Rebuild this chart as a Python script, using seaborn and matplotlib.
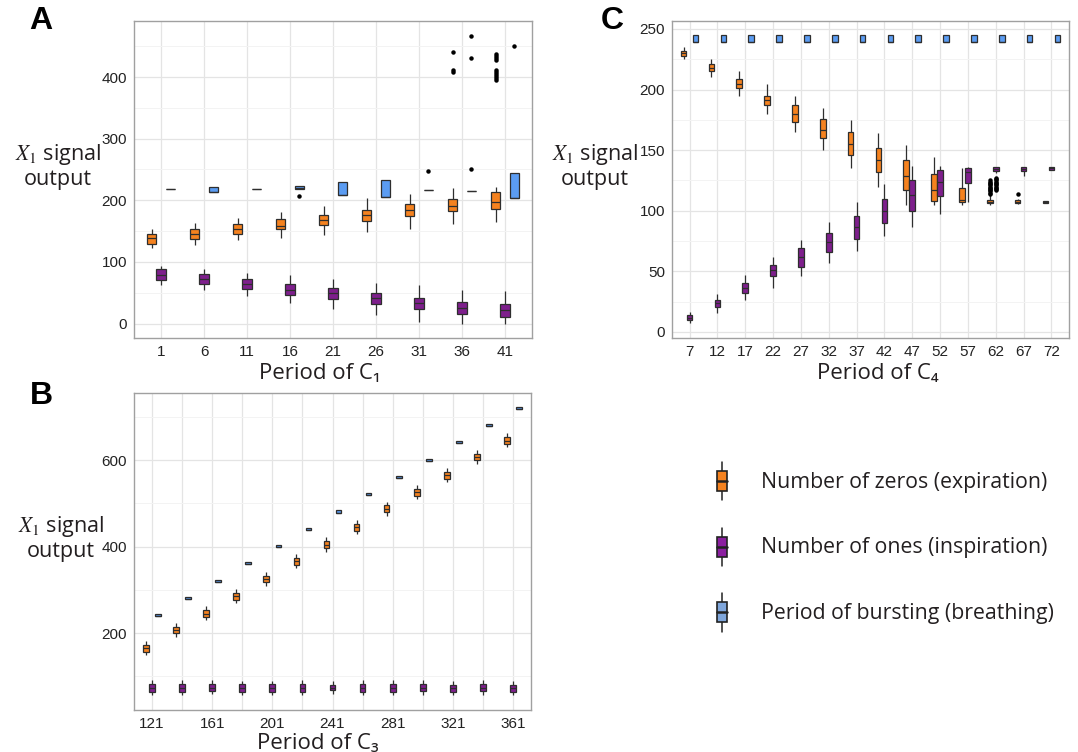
import numpy as np
import pandas as pd
import matplotlib
matplotlib.use("Agg")
import matplotlib.pyplot as plt
from matplotlib.legend_handler import HandlerBase
from matplotlib.patches import Rectangle, Patch
from matplotlib.lines import Line2D
from matplotlib.ticker import MultipleLocator
import seaborn as sns

# ---------------- data (five-number summaries: low whisker, Q1, median, Q3, high whisker) ----------------
SERIES = ["Number of zeros (expiration)", "Number of ones (inspiration)", "Period of bursting (breathing)"]
COLORS = ["#F5821F", "#7E1F8C", "#5B9CF2"]
LEGEND_COLORS = ["#F5821F", "#8B1FA0", "#7FA6DB"]

# Panel A : period of C1
a_periods = [1, 6, 11, 16, 21, 26, 31, 36, 41]
a_zeros = [[123, 129, 138, 146, 153], [128, 137, 145, 153, 163], [136, 145, 153, 161, 172],
           [139, 153, 159, 170, 181], [144, 160, 168, 176, 191], [149, 166, 176, 185, 203],
           [153, 175, 184, 194, 210], [161, 182, 191, 202, 220], [165, 186, 198, 213, 222]]
a_zeros_out = [[], [], [], [], [], [], [], [408, 411, 440],
               [396, 399, 402, 405, 408, 411, 428, 431, 434, 437]]
a_ones = [[63, 70, 79, 88, 94], [54, 64, 73, 80, 89], [44, 56, 64, 72, 82],
          [34, 47, 55, 64, 79], [23, 40, 49, 57, 73], [14, 32, 41, 49, 65],
          [3, 23, 33, 42, 62], [0, 15, 25, 35, 55], [0, 11, 22, 32, 52]]
a_ones_out = [[], [], [], [], [], [], [], [], []]
a_period = [[219, 219, 219, 219, 219], [214, 214, 214, 221, 221], [219, 219, 219, 219, 219],
            [218, 218, 220, 223.5, 223.5], [209, 209, 209, 230, 230], [206, 206, 206, 233, 233],
            [216, 216, 216, 216, 216], [215, 215, 215, 215, 215], [204, 204, 204, 245, 245]]
a_period_out = [[], [], [], [207], [], [], [247], [251, 431, 466], [450]]

# Panel B : period of C3
b_periods = [121, 141, 161, 181, 201, 221, 241, 261, 281, 301, 321, 341, 361]
b_zeros = [[149, 157, 165, 173, 182], [191, 199, 207, 215, 224], [229, 237, 245, 253, 262],
           [269, 277, 285, 293, 302], [309, 317, 325, 333, 342], [350, 358, 366, 374, 383],
           [388, 396, 404, 412, 421], [429, 437, 445, 453, 462], [471, 479, 487, 495, 504],
           [509, 517, 525, 533, 542], [549, 557, 565, 573, 582], [591, 599, 607, 615, 624],
           [629, 637, 645, 653, 662]]
b_ones = [[56, 64, 73, 82, 91], [56, 64, 73, 82, 91], [58, 65, 74, 83, 91], [57, 64, 73, 82, 90],
          [57, 64, 73, 81, 90], [56, 64, 73, 82, 91], [60, 68, 74, 80, 88], [57, 64, 73, 82, 91],
          [57, 64, 73, 82, 91], [57, 65, 74, 82, 91], [57, 64, 72, 80, 90], [57, 65, 74, 83, 92],
          [57, 64, 72, 80, 90]]
b_period = [[238.5, 238.5, 238.5, 243.5, 243.5], [278.5, 278.5, 278.5, 283.5, 283.5],
            [318.5, 318.5, 318.5, 323.5, 323.5], [358.5, 358.5, 358.5, 363.5, 363.5],
            [398.5, 398.5, 398.5, 403.5, 403.5], [438.5, 438.5, 438.5, 443.5, 443.5],
            [478.5, 478.5, 478.5, 483.5, 483.5], [518.5, 518.5, 518.5, 523.5, 523.5],
            [558.5, 558.5, 558.5, 563.5, 563.5], [598.5, 598.5, 598.5, 603.5, 603.5],
            [638.5, 638.5, 638.5, 643.5, 643.5], [678.5, 678.5, 678.5, 683.5, 683.5],
            [718.5, 718.5, 718.5, 723.5, 723.5]]
b_none = [[] for _ in b_periods]

# Panel C : period of C4
c_periods = [7, 12, 17, 22, 27, 32, 37, 42, 47, 52, 57, 62, 67, 72]
c_zeros = [[225, 228, 230, 232, 235], [210, 215, 217.5, 221, 225], [195, 201, 205, 209, 215],
           [180, 187, 191, 195, 205], [165, 173, 180, 187, 195], [150, 160, 167, 176, 185],
           [135, 146, 155, 165, 175], [120, 132, 142, 152, 164], [105, 117, 129, 142, 154],
           [105, 108, 117, 130, 144], [105, 107, 109, 118.5, 135], [105, 106, 107.5, 109, 110],
           [105.5, 106, 107.5, 109, 109.5], [106, 106, 107, 108, 108]]
c_zeros_out = [[], [], [], [], [], [], [], [], [], [], [],
               [112, 113, 114, 115, 116, 117, 118, 119, 120, 121, 122, 123, 124, 125],
               [114], []]
c_ones = [[7, 9.5, 11.5, 14, 16.5], [16, 20.5, 23.5, 26.5, 31.5], [26, 32, 36.5, 40.5, 47],
          [36, 46, 51, 55, 62], [46, 54, 62, 69, 76], [57, 66, 74.5, 82, 91],
          [67, 77, 87, 96, 107], [79, 90, 100, 110, 122], [87, 100, 113, 125, 137],
          [97, 112, 124, 134, 137], [107, 123, 132, 135, 136.5], [131.5, 132.5, 134.5, 136, 136.5],
          [129, 132.5, 134.5, 136, 136.5], [133.5, 134, 135, 136, 136]]
c_ones_out = [[], [], [], [], [], [], [], [], [], [], [],
              [117, 118, 119, 120, 121, 122, 123, 124, 125, 126, 127], [], []]
c_period = [[239.5, 239.5, 239.5, 245, 245]] * 14
c_none = [[] for _ in c_periods]

W, H = 1078, 752


def fx(px):
    return px / W


def fy(py):
    return 1 - py / H


def expand(stats, outs, k=30):
    lo, q1, med, q3, hi = stats
    return [lo] + [q1] * k + [med] * k + [q3] * k + [hi] + list(outs)


def build_df(periods, groups):
    rows = []
    for name, (stats, outs) in zip(SERIES, groups):
        for p, st, ou in zip(periods, stats, outs):
            for v in expand(st, ou):
                rows.append((str(p), name, v))
    return pd.DataFrame(rows, columns=["period", "series", "value"])


sns.set_theme(style="white")
plt.rcParams["font.family"] = ["Liberation Sans", "DejaVu Sans"]
plt.rcParams["mathtext.fontset"] = "stix"

fig = plt.figure(figsize=(W / 100, H / 100), dpi=100)


def panel(rect, periods, groups, width, gap, ylim, yticks, yminor, margin, every=1):
    ax = fig.add_axes(rect)
    df = build_df(periods, groups)
    order = [str(p) for p in periods]
    sns.boxplot(data=df, x="period", y="value", hue="series", order=order, hue_order=SERIES,
                palette=COLORS, saturation=1, width=width, gap=gap, dodge=True, whis=1.5,
                showcaps=False, linecolor="#2E2E2E", linewidth=0.9, fliersize=2.2,
                flierprops=dict(marker="o", markerfacecolor="black", markeredgecolor="black"),
                legend=False, ax=ax)
    ax.set_xlim(-margin, len(periods) - 1 + margin)
    ax.set_ylim(*ylim)
    ax.set_yticks(yticks)
    ax.yaxis.set_minor_locator(MultipleLocator(yminor))
    ax.set_xticks(range(len(periods)))
    ax.set_xticklabels([str(p) if i % every == 0 else "" for i, p in enumerate(periods)])
    ax.set_xlabel("")
    ax.set_ylabel("")
    ax.set_axisbelow(True)
    ax.grid(True, which="major", color="#E4E4E4", lw=0.9)
    ax.grid(True, which="minor", axis="y", color="#F3F3F3", lw=0.7)
    ax.xaxis.grid(True, which="major", color="#E4E4E4", lw=0.9)
    ax.tick_params(axis="both", which="major", length=3.5, width=0.8, color="#444444",
                   labelsize=11, labelcolor="#222222", pad=1.5)
    ax.tick_params(which="minor", length=0)
    for s in ax.spines.values():
        s.set_color("#A0A0A0")
        s.set_linewidth(1.0)
    return ax


panel([fx(134), fy(338), fx(532) - fx(134), fy(21) - fy(338)], a_periods,
      [(a_zeros, a_zeros_out), (a_ones, a_ones_out), (a_period, a_period_out)],
      0.65, 0.0, (-23.5, 491), [0, 100, 200, 300, 400], 50, 0.63)

panel([fx(134), fy(710), fx(531) - fx(134), fy(393) - fy(710)], b_periods,
      [(b_zeros, b_none), (b_ones, b_none), (b_period, b_none)],
      0.6, 0.05, (22, 755), [200, 400, 600], 100, 0.6, every=2)

panel([fx(672), fy(338), fx(1069) - fx(672), fy(21) - fy(338)], c_periods,
      [(c_zeros, c_zeros_out), (c_ones, c_ones_out), (c_period, c_none)],
      0.645, 0.05, (-5, 256.6), [0, 50, 100, 150, 200, 250], 25, 0.63)

# --- texts ---
TXT = "#231F20"
LBL_FONT = ["Open Sans", "DejaVu Sans"]
ylab = "$\\mathit{X}_{\\mathit{1}}$ signal\noutput"
for (x, y) in [(58, 166), (61, 538), (595, 166)]:
    fig.text(fx(x), fy(y), ylab, ha="center", va="center", fontsize=15.5, family=LBL_FONT,
             color=TXT, linespacing=1.15)

for (x, y, t) in [(320, 373, "Period of C\u2081"), (318, 743, "Period of C\u2083"),
                  (878, 374, "Period of C\u2084")]:
    fig.text(fx(x), fy(y), t, ha="center", va="center", fontsize=16, family=LBL_FONT, color=TXT)

for (x, y, t) in [(41, 21, "A"), (41, 396, "B"), (612, 21, "C")]:
    fig.text(fx(x), fy(y), t, ha="center", va="center", fontsize=23, weight="bold",
             family="Liberation Sans", color="black")


# --- legend with box-glyph handles ---
class BoxGlyph(HandlerBase):
    def create_artists(self, legend, orig_handle, xdescent, ydescent, width, height,
                       fontsize, trans):
        fc = orig_handle.get_facecolor()
        cx = -xdescent + width / 2
        cy = -ydescent + height / 2
        bw, bh, wh = 7.2, 14.4, 13.7
        line = Line2D([cx, cx], [cy - wh, cy + wh], color="#222222", lw=1.1, transform=trans)
        box = Rectangle((cx - bw / 2, cy - bh / 2), bw, bh, facecolor=fc, edgecolor="#222222",
                        lw=1.2, transform=trans)
        med = Line2D([cx - bw / 2, cx + bw / 2], [cy, cy], color="#222222", lw=1.8,
                     transform=trans)
        return [line, box, med]


handles = [Patch(facecolor=c) for c in LEGEND_COLORS]
leg = fig.legend(handles=handles, labels=SERIES, handler_map={Patch: BoxGlyph()},
                 loc="upper left", bbox_to_anchor=(fx(712), fy(465)), frameon=False,
                 prop={"family": LBL_FONT, "size": 15.3}, handlelength=0.95, handleheight=1.9,
                 handletextpad=1.35, labelspacing=1.62, borderpad=0, borderaxespad=0)
for t in leg.get_texts():
    t.set_color(TXT)

fig.savefig("out.png", dpi=100)
